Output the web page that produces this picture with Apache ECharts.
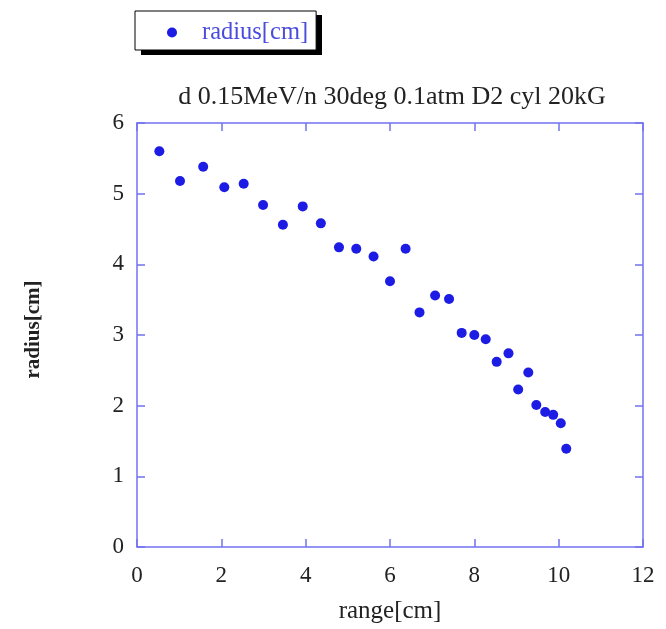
<!DOCTYPE html>
<html><head><meta charset="utf-8">
<script src="https://cdn.jsdelivr.net/npm/echarts@6/dist/echarts.min.js"></script>
<style>html,body{margin:0;padding:0;background:#fff}#c{width:666px;height:629px}</style>
</head><body><div id="c"></div>
<script>
var rangeCm = [0.53,1.02,1.57,2.07,2.53,2.99,3.46,3.93,4.36,4.79,5.20,5.61,6.00,6.37,6.70,7.07,7.40,7.70,8.00,8.27,8.53,8.81,9.04,9.28,9.47,9.68,9.87,10.05,10.18];
var radiusCm = [5.60,5.18,5.38,5.09,5.14,4.84,4.56,4.82,4.58,4.24,4.22,4.11,3.76,4.22,3.32,3.56,3.51,3.03,3.00,2.94,2.62,2.74,2.23,2.47,2.01,1.91,1.87,1.75,1.39];
var seriesName = 'radius[cm]';
var titleText = 'd 0.15MeV/n 30deg 0.1atm D2 cyl 20kG';

var pts = rangeCm.map(function(x,i){return [x, radiusCm[i]];});
var axisColor = '#7272f2';
var font = 'Liberation Serif';
function frameAxis(pos){
  return {type:'value', position:pos,
    axisLine:{show:true, onZero:false, lineStyle:{color:axisColor,width:1.5}},
    axisTick:{show:true, inside:true, length:8, lineStyle:{color:axisColor,width:1.5}},
    axisLabel:{show:false}, splitLine:{show:false}};
}
var xTop = frameAxis('top'); xTop.min=0; xTop.max=12; xTop.interval=2;
var yRight = frameAxis('right'); yRight.min=0; yRight.max=6; yRight.interval=1;
var chart = echarts.init(document.getElementById('c'), null, {renderer:'canvas'});
chart.setOption({
  animation:false,
  backgroundColor:'#fff',
  title:{text:titleText, left:387, top:79, textAlign:'center',
    textStyle:{fontFamily:font,fontSize:26,fontWeight:'normal',color:'#222'}},
  graphic:[
    {type:'rect', left:141, top:15, shape:{width:181,height:40}, style:{fill:'#000'}, z:-1}
  ],
  legend:{left:135, top:11, padding:[9,8,5,32],
    backgroundColor:'#fff', borderColor:'#000', borderWidth:1,
    itemWidth:10, itemHeight:10, itemGap:10,
    textStyle:{fontFamily:font,fontSize:24.5,color:'#4b4bdf', padding:[0,0,0,20]},
    data:[{name:seriesName, icon:'circle', itemStyle:{opacity:1}}]},
  grid:{left:137, right:23, top:123, bottom:81},
  xAxis:[{type:'value', min:0, max:12, interval:2,
    name:'range[cm]', nameLocation:'middle', nameGap:52,
    nameTextStyle:{fontFamily:font,fontSize:25,color:'#222'},
    axisLine:{show:true, onZero:false, lineStyle:{color:axisColor,width:1.5}},
    axisTick:{show:true, inside:true, length:8, lineStyle:{color:axisColor,width:1.5}},
    axisLabel:{fontFamily:font,fontSize:23,color:'#222',margin:17},
    splitLine:{show:false}}, xTop],
  yAxis:[{type:'value', min:0, max:6, interval:1,
    name:'radius[cm]', nameLocation:'middle', nameGap:93, nameRotate:90,
    nameTextStyle:{fontFamily:font,fontSize:21,fontWeight:'bold',color:'#222', padding:[0,0,0,11]},
    axisLine:{show:true, onZero:false, lineStyle:{color:axisColor,width:1.5}},
    axisTick:{show:true, inside:true, length:8, lineStyle:{color:axisColor,width:1.5}},
    axisLabel:{fontFamily:font,fontSize:23,color:'#222',margin:13},
    splitLine:{show:false}}, yRight],
  series:[{name:seriesName, type:'scatter', data:pts, symbol:'circle', symbolSize:10,
    itemStyle:{color:'#1c1ce4', opacity:1}}]
});
</script></body></html>
